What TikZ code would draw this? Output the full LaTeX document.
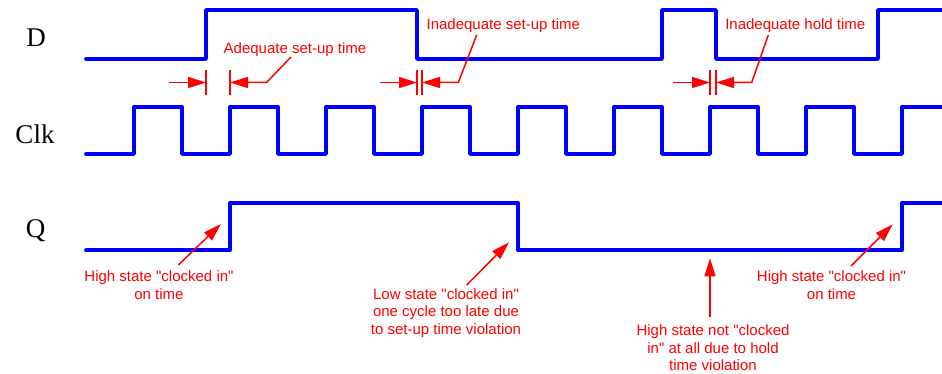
\documentclass[tikz,border=0pt]{standalone}
\usepackage{fontspec}
\setmainfont{Liberation Serif}
\newfontfamily\annfont{Liberation Sans}
\usetikzlibrary{arrows.meta}
\definecolor{sigblue}{RGB}{0,0,255}
\definecolor{annred}{RGB}{255,0,0}
\begin{document}
\begin{tikzpicture}[x=1pt,y=-1pt,
  sig/.style={draw=sigblue, line width=3.8pt, line join=round, line cap=round},
  ann/.style={draw=annred, line width=1.5pt},
  arr/.style={ann, -{Triangle[length=18pt,width=11pt]}},
  lbl/.style={font=\fontsize{27}{30}\selectfont, inner sep=0pt, anchor=base},
  note/.style={text=annred, font=\annfont\fontsize{15}{17.5}\selectfont, inner sep=0pt, align=center}]
\useasboundingbox (0,0) rectangle (942,374);
\fill[white] (0,0) rectangle (942,374);

% signal labels
\node[lbl] (lD) at (36,46.7) {D};
\node[lbl] (lC) at (35,143.3) {Clk};
\node[lbl] (lQ) at (35.5,237.5) {Q};

% signals
\draw[sig] (86,59) -| (206,10) -| (417,59) -| (662,10) -| (716,59) -| (878,10) -- (946,10);
\draw[sig] (86,154) -| (134,106.7) -| (182,154) -| (230,106.7) -| (278,154) -| (326,106.7)
  -| (374,154) -| (422,106.7) -| (470,154) -| (518,106.7) -| (566,154) -| (614,106.7)
  -| (662,154) -| (710,106.7) -| (758,154) -| (806,106.7) -| (854,154) -| (902,106.7) -- (946,106.7);
\draw[sig] (86,250.3) -| (230,202.7) -| (518,250.3) -| (902,202.7) -- (946,202.7);

% timing ticks
\foreach \x in {206,230,417,422,710,716} \draw[ann] (\x,70) -- (\x,95);

% top annotations
\node[note, anchor=base] (adq) at (295,53.3) {Adequate set-up time};
\node[note, anchor=base] (inset) at (503.3,30) {Inadequate set-up time};
\node[note, anchor=base] (inhold) at (795.3,30) {Inadequate hold time};

\coordinate (s1L) at (206,82.5);  \coordinate (s1R) at (230,82.5);
\coordinate (s1t) at (169,82.5);  \coordinate (s1e) at (266.5,82.5); \coordinate (s1l) at (291,57);
\coordinate (s2L) at (417,82.5);  \coordinate (s2R) at (422,82.5);
\coordinate (s2t) at (379.5,82.5); \coordinate (s2e) at (458.3,82.5); \coordinate (s2l) at (476.7,35);
\coordinate (s3L) at (710,82.5);  \coordinate (s3R) at (716,82.5);
\coordinate (s3t) at (673.3,82.5); \coordinate (s3e) at (751.7,82.5); \coordinate (s3l) at (768.3,35);

\draw[arr] (s1t) -- (s1L);
\draw[arr] (s1l) -- (s1e) -- (s1R);
\draw[arr] (s2t) -- (s2L);
\draw[arr] (s2l) -- (s2e) -- (s2R);
\draw[arr] (s3t) -- (s3L);
\draw[arr] (s3l) -- (s3e) -- (s3R);

% Q annotations
\node[note, anchor=north] (q1) at (159,270.7) {High state "clocked in"\\on time};
\node[note, anchor=north] (q2) at (446,288) {Low state "clocked in"\\one cycle too late due\\to set-up time violation};
\node[note, anchor=north] (q3) at (713,324.5) {High state not "clocked\\in" at all due to hold\\time violation};
\node[note, anchor=north] (q4) at (831.5,270.7) {High state "clocked in"\\on time};

\coordinate (q1a) at (178.3,265);   \coordinate (q1b) at (221,224);
\coordinate (q2a) at (466.7,285);   \coordinate (q2b) at (509,242.3);
\coordinate (q3a) at (710,316.7);   \coordinate (q3b) at (710,258.3);
\coordinate (q4a) at (851,266);     \coordinate (q4b) at (892.7,224.3);
\draw[arr] (q1a) -- (q1b);
\draw[arr] (q2a) -- (q2b);
\draw[arr] (q3a) -- (q3b);
\draw[arr] (q4a) -- (q4b);
\end{tikzpicture}
\end{document}
